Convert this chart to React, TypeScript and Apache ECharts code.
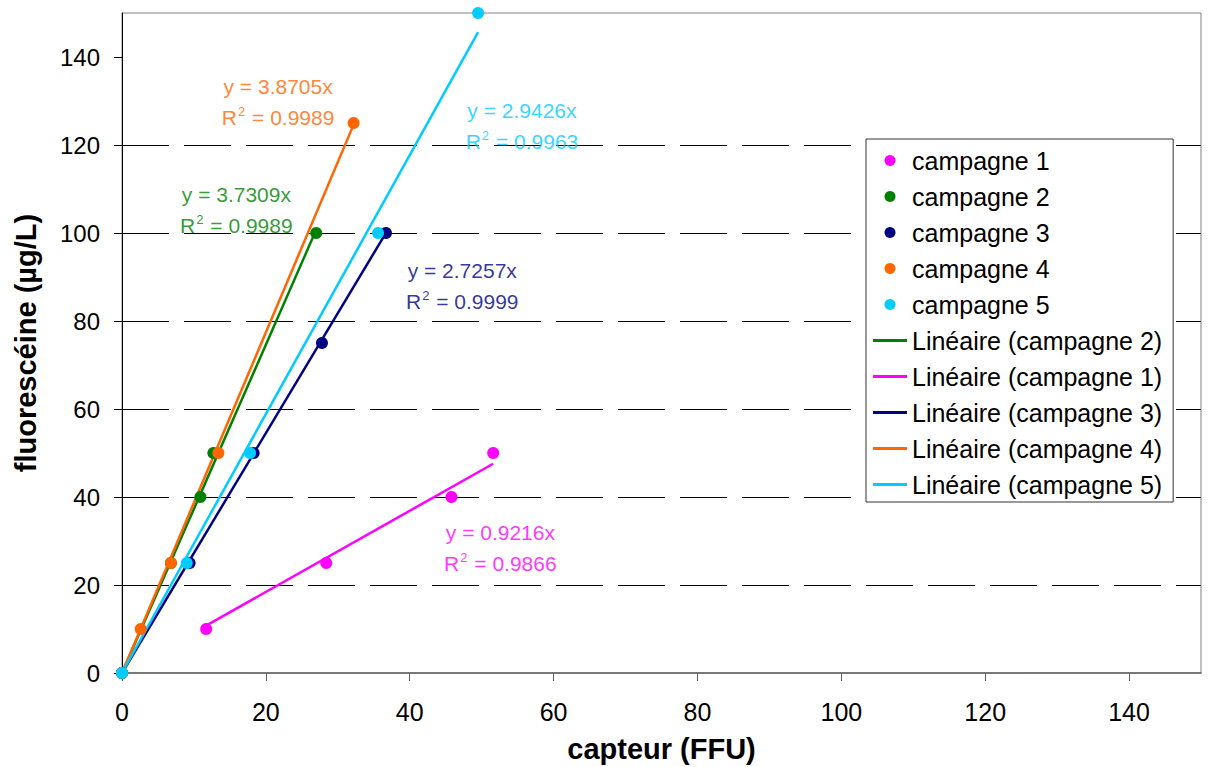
import React, { useEffect, useRef } from "react";
import * as echarts from "echarts";

// ---- data ----
const campaignNames = ["campagne 1", "campagne 2", "campagne 3", "campagne 4", "campagne 5"];
const campaignColors = ["#FF00FF", "#008000", "#000080", "#FF6600", "#00CCFF"];

const c1X = [11.7, 28.4, 45.8, 51.6];
const c1Y = [10, 25, 40, 50];
const c2X = [0, 6.8, 10.9, 12.7, 27.0];
const c2Y = [0, 25, 40, 50, 100];
const c3X = [0, 9.4, 18.3, 27.8, 36.7];
const c3Y = [0, 25, 50, 75, 100];
const c4X = [0, 2.6, 6.8, 13.4, 32.2];
const c4Y = [0, 10, 25, 50, 125];
const c5X = [0, 9.0, 17.8, 35.6, 49.5];
const c5Y = [0, 25, 50, 100, 150];

const slopes = [0.9216, 3.7309, 2.7257, 3.8705, 2.9426];
const r2Values = ["0.9866", "0.9989", "0.9999", "0.9989", "0.9963"];

const xTickValues = [0, 20, 40, 60, 80, 100, 120, 140];
const yTickValues = [0, 20, 40, 60, 80, 100, 120, 140];

// order of trendlines in the legend
const trendOrder = [1, 0, 2, 3, 4];

// ---- layout (annotation anchors in data coordinates) ----
const equationAnchors = [
  [52.6, 28.5],
  [15.9, 105.2],
  [47.3, 88.0],
  [21.7, 129.8],
  [55.6, 124.3],
];

const FONT = "'Liberation Sans', Arial, Helvetica, sans-serif";
const LINE_ICON = "path://M0,0 L34,0 L34,3 L0,3 Z";

export default function App() {
  const ref = useRef<HTMLDivElement>(null);

  useEffect(() => {
    if (!ref.current) return;
    const chart = echarts.init(ref.current, undefined, { renderer: "svg" });

    const xs = [c1X, c2X, c3X, c4X, c5X];
    const ys = [c1Y, c2Y, c3Y, c4Y, c5Y];

    const trendSeries = trendOrder.map((i) => {
      const minX = Math.min(...xs[i]);
      const maxX = Math.max(...xs[i]);
      return {
        name: `Linéaire (${campaignNames[i]})`,
        type: "line",
        data: [
          [minX, slopes[i] * minX],
          [maxX, slopes[i] * maxX],
        ],
        symbol: "none",
        showSymbol: false,
        silent: true,
        z: 2,
        lineStyle: { color: campaignColors[i], width: 2.5 },
        itemStyle: { color: campaignColors[i] },
      };
    });

    const pointSeries = campaignNames.map((name, i) => ({
      name,
      type: "scatter",
      data: xs[i].map((x, k) => [x, ys[i][k]]),
      symbol: "circle",
      symbolSize: 12,
      z: 3,
      itemStyle: { color: campaignColors[i], opacity: 1 },
    }));

    const equationSeries = {
      name: "equations",
      type: "scatter",
      silent: true,
      symbolSize: 0,
      z: 4,
      data: equationAnchors.map((p, i) => ({
        value: p,
        label: {
          show: true,
          position: "inside",
          formatter: `{r|y = ${slopes[i].toFixed(4)}x}\n{r|R}{s|2}{r| = ${r2Values[i]}}`,
          color: campaignColors[i],
          fontFamily: FONT,
          align: "center",
          verticalAlign: "middle",
          rich: {
            r: { fontSize: 21, lineHeight: 31, color: campaignColors[i], fontFamily: FONT },
            s: {
              fontSize: 13,
              lineHeight: 14,
              verticalAlign: "top",
              padding: [3, 1, 0, 1],
              color: campaignColors[i],
              fontFamily: FONT,
            },
          },
        },
      })),
    };

    const legendData = [
      ...campaignNames.map((n) => ({ name: n, icon: "circle" })),
      ...trendOrder.map((i) => ({ name: `Linéaire (${campaignNames[i]})`, icon: LINE_ICON })),
    ];

    chart.setOption({
      animation: false,
      backgroundColor: "#ffffff",
      grid: {
        left: 122,
        top: 13,
        right: 7,
        bottom: 94,
        show: true,
        containLabel: false,
        outerBoundsMode: "none",
        borderColor: "#808080",
        borderWidth: 1,
        backgroundColor: "transparent",
      },
      legend: {
        orient: "vertical",
        left: 866,
        top: 139,
        padding: [9, 11, 5, 7],
        backgroundColor: "#ffffff",
        borderColor: "#333333",
        borderWidth: 1,
        itemWidth: 34,
        itemHeight: 11,
        itemGap: 11,
        selectedMode: false,
        data: legendData,
        textStyle: { fontSize: 25, lineHeight: 25, color: "#000", fontFamily: FONT },
      },
      xAxis: {
        type: "value",
        min: 0,
        max: 150,
        interval: 20,
        name: "capteur (FFU)",
        nameLocation: "middle",
        nameGap: 61,
        nameTextStyle: { fontSize: 29, fontWeight: "bold", color: "#000", fontFamily: FONT },
        axisLine: { show: true, lineStyle: { color: "#606060", width: 1.5 } },
        axisTick: {
          show: true,
          inside: false,
          length: 8,
          customValues: xTickValues,
          lineStyle: { color: "#606060" },
        },
        axisLabel: {
          fontSize: 25,
          color: "#000",
          margin: 26,
          fontFamily: FONT,
          customValues: xTickValues,
        },
        splitLine: { show: false },
      },
      yAxis: {
        type: "value",
        min: 0,
        max: 150,
        interval: 20,
        name: "fluorescéine (µg/L)",
        nameLocation: "middle",
        nameGap: 82,
        nameRotate: 90,
        nameTextStyle: { fontSize: 29, fontWeight: "bold", color: "#000", fontFamily: FONT },
        axisLine: { show: true, lineStyle: { color: "#000", width: 1 } },
        axisTick: {
          show: true,
          inside: false,
          length: 8,
          customValues: yTickValues,
          lineStyle: { color: "#000" },
        },
        axisLabel: {
          fontSize: 24,
          color: "#000",
          margin: 22,
          fontFamily: FONT,
          customValues: yTickValues,
        },
        splitLine: {
          show: true,
          showMinLine: false,
          showMaxLine: false,
          lineStyle: { color: "#000", width: 1, type: [47, 15] },
        },
      },
      series: [...trendSeries, ...pointSeries, equationSeries],
    });

    return () => chart.dispose();
  }, []);

  return (
    <div
      ref={ref}
      style={{ position: "absolute", left: 0, top: 0, width: 1208, height: 767 }}
    />
  );
}
